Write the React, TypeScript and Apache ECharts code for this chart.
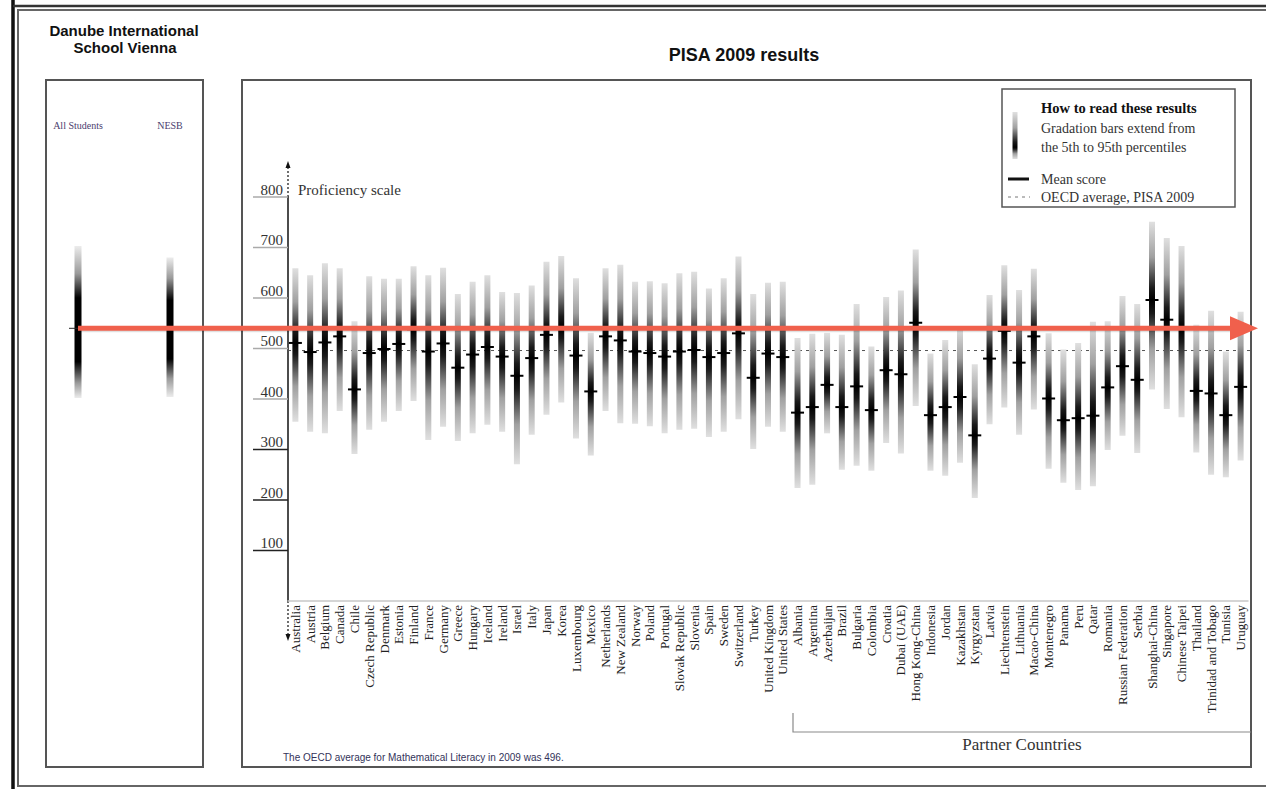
import { useEffect, useRef } from "react";
import * as echarts from "echarts";

const countries = [
  "Australia", "Austria", "Belgium", "Canada", "Chile", "Czech Republic", "Denmark", "Estonia",
  "Finland", "France", "Germany", "Greece", "Hungary", "Iceland", "Ireland", "Israel", "Italy",
  "Japan", "Korea", "Luxembourg", "Mexico", "Netherlands", "New Zealand", "Norway", "Poland",
  "Portugal", "Slovak Republic", "Slovenia", "Spain", "Sweden", "Switzerland", "Turkey",
  "United Kingdom", "United States",
  "Albania", "Argentina", "Azerbaijan", "Brazil", "Bulgaria", "Colombia", "Croatia", "Dubai (UAE)",
  "Hong Kong-China", "Indonesia", "Jordan", "Kazakhstan", "Kyrgyzstan", "Latvia", "Liechtenstein",
  "Lithuania", "Macao-China", "Montenegro", "Panama", "Peru", "Qatar", "Romania",
  "Russian Federation", "Serbia", "Shanghai-China", "Singapore", "Chinese Taipei", "Thailand",
  "Trinidad and Tobago", "Tunisia", "Uruguay",
];

// 5th percentile
const p5 = [
  355, 335, 332, 376, 291, 339, 355, 376, 396, 319, 345, 317, 332, 349, 335, 271, 329,
  369, 393, 322, 288, 376, 352, 351, 346, 332, 339, 341, 325, 335, 360, 301, 345, 335,
  224, 230, 332, 260, 268, 258, 313, 292, 386, 258, 248, 274, 204, 350, 383, 329, 379,
  262, 234, 220, 227, 299, 327, 293, 419, 380, 364, 294, 250, 245, 278,
];

// mean scores
const means = [
  511, 493, 512, 524, 419, 491, 499, 509, 538, 494, 510, 462, 488, 503, 484, 446, 481,
  527, 542, 486, 415, 524, 516, 494, 491, 484, 494, 497, 483, 491, 530, 442, 490, 483,
  373, 384, 428, 384, 425, 378, 457, 449, 551, 368, 384, 404, 328, 480, 535, 472, 524,
  401, 358, 362, 367, 423, 465, 438, 596, 557, 540, 416, 411, 368, 424,
];

// 95th percentile
const p95 = [
  659, 645, 669, 659, 554, 643, 638, 638, 663, 645, 660, 608, 632, 645, 612, 610, 625,
  672, 683, 639, 531, 659, 666, 632, 633, 629, 649, 652, 619, 639, 682, 608, 630, 632,
  521, 529, 531, 527, 588, 504, 602, 615, 696, 490, 517, 543, 469, 606, 665, 616, 658,
  530, 498, 511, 553, 554, 604, 588, 751, 719, 703, 547, 575, 494, 573,
];

const schoolGroups = ["All Students", "NESB"];
const schoolP5 = [402, 404];
const schoolMean = [540, 540];
const schoolP95 = [703, 680];
const schoolScore = 540;
const oecdAverage = 496;
const yTicks = [100, 200, 300, 400, 500, 600, 700, 800];

const SERIF = "'Liberation Serif', 'DejaVu Serif', serif";
const SANS = "'Liberation Sans', Arial, sans-serif";

const clamp = (v: number) => Math.min(1, Math.max(0, v));

function barFill(mf: number) {
  return {
    type: "linear", x: 0, y: 0, x2: 0, y2: 1, global: false,
    colorStops: [
      { offset: 0, color: "#e0e0e0" },
      { offset: clamp(mf * 0.45), color: "#a0a0a0" },
      { offset: clamp(mf * 0.85), color: "#1a1a1a" },
      { offset: clamp(mf), color: "#000000" },
      { offset: clamp(mf + (1 - mf) * 0.15), color: "#1a1a1a" },
      { offset: clamp(mf + (1 - mf) * 0.55), color: "#a0a0a0" },
      { offset: 1, color: "#e0e0e0" },
    ],
  };
}

function schoolFill(mf: number) {
  return {
    type: "linear", x: 0, y: 0, x2: 0, y2: 1, global: false,
    colorStops: [
      { offset: 0, color: "#ececec" },
      { offset: clamp(mf - 0.36), color: "#9a9a9a" },
      { offset: clamp(mf - 0.2), color: "#000000" },
      { offset: clamp(mf + 0.22), color: "#000000" },
      { offset: clamp(mf + 0.36), color: "#9a9a9a" },
      { offset: 1, color: "#ececec" },
    ],
  };
}

function txt(x: number, y: number, text: string, size: number, family: string, opts: any = {}) {
  const align = opts.align || "left";
  return {
    type: "text",
    x,
    y,
    silent: true,
    style: {
      text,
      fontSize: size,
      fontFamily: family,
      fontWeight: opts.weight || "normal",
      fill: opts.color || "#222",
      align,
      textAlign: align,
      verticalAlign: "middle",
      textVerticalAlign: "middle",
    },
  };
}

export default function App() {
  const ref = useRef<HTMLDivElement>(null);

  useEffect(() => {
    if (!ref.current) return;
    const chart = echarts.init(ref.current, null, { renderer: "svg" });

    const barData = countries.map((c, i) => [i, p5[i], means[i], p95[i]]);
    const schoolData = schoolGroups.map((g, i) => [i, schoolP5[i], schoolMean[i], schoolP95[i]]);

    const graphicElements: any[] = [
      // outer frame
      { type: "line", silent: true, shape: { x1: 13, y1: 0, x2: 13, y2: 789 }, style: { stroke: "#111", lineWidth: 3.5 } },
      { type: "line", silent: true, shape: { x1: 13, y1: 6, x2: 1266, y2: 6 }, style: { stroke: "#333", lineWidth: 2.5 } },
      { type: "rect", silent: true, shape: { x: 18, y: 10, width: 1300, height: 776 }, style: { fill: "none", stroke: "#666", lineWidth: 2 } },
      // panels
      { type: "rect", silent: true, shape: { x: 46, y: 80, width: 157, height: 687 }, style: { fill: "none", stroke: "#555", lineWidth: 2 } },
      { type: "rect", silent: true, shape: { x: 242, y: 80, width: 1009, height: 687 }, style: { fill: "none", stroke: "#555", lineWidth: 2 } },
      // titles
      txt(124, 30, "Danube International", 15, SANS, { align: "center", weight: "bold", color: "#111" }),
      txt(125, 47, "School Vienna", 15, SANS, { align: "center", weight: "bold", color: "#111" }),
      txt(744, 55, "PISA 2009 results", 18, SANS, { align: "center", weight: "bold", color: "#111" }),
      // axis extensions
      { type: "line", silent: true, shape: { x1: 288, y1: 197, x2: 288, y2: 167 }, style: { stroke: "#111", lineWidth: 1.2, lineDash: [2, 2] } },
      { type: "polygon", silent: true, shape: { points: [[285.5, 168], [288, 161], [290.5, 168]] }, style: { fill: "#111" } },
      { type: "line", silent: true, shape: { x1: 288, y1: 601, x2: 288, y2: 635 }, style: { stroke: "#111", lineWidth: 1.2, lineDash: [2, 2] } },
      { type: "polygon", silent: true, shape: { points: [[285.5, 634], [288, 641], [290.5, 634]] }, style: { fill: "#111" } },
      txt(298, 190, "Proficiency scale", 15, SERIF, { color: "#333" }),
      // partner bracket
      { type: "polyline", silent: true, shape: { points: [[793, 713], [793, 732], [1251, 732]] }, style: { stroke: "#8a8a8a", lineWidth: 1.2, fill: "none" } },
      txt(1022, 744, "Partner Countries", 17, SERIF, { align: "center", color: "#333" }),
      // footnote
      txt(283, 757, "The OECD average for Mathematical Literacy in 2009 was 496.", 10, SANS, { color: "#33335a" }),
      // legend box
      { type: "rect", silent: true, shape: { x: 1002, y: 89, width: 233, height: 118 }, style: { fill: "#fff", stroke: "#555", lineWidth: 1.5 } },
      txt(1041, 108, "How to read these results", 14.5, SERIF, { weight: "bold", color: "#111" }),
      {
        type: "rect", silent: true,
        shape: { x: 1012.5, y: 112, width: 5, height: 47 },
        style: { fill: barFill(0.75) },
      },
      txt(1041, 128, "Gradation bars extend from", 14, SERIF, { color: "#333" }),
      txt(1041, 147, "the 5th to 95th percentiles", 14, SERIF, { color: "#333" }),
      { type: "line", silent: true, shape: { x1: 1008, y1: 179, x2: 1029, y2: 179 }, style: { stroke: "#111", lineWidth: 3 } },
      txt(1041, 179, "Mean score", 14, SERIF, { color: "#333" }),
      { type: "line", silent: true, shape: { x1: 1008, y1: 197, x2: 1030, y2: 197 }, style: { stroke: "#777", lineWidth: 1, lineDash: [3, 4] } },
      txt(1041, 197, "OECD average, PISA 2009", 14, SERIF, { color: "#333" }),
    ];

    const option: any = {
      animation: false,
      backgroundColor: "#ffffff",
      grid: [
        { left: 288, top: 197, width: 960, height: 404 },
        { left: 32, top: 197, width: 184, height: 404 },
      ],
      xAxis: [
        {
          type: "category",
          gridIndex: 0,
          data: countries,
          boundaryGap: true,
          axisLine: { show: true, lineStyle: { color: "#c8c8c8", width: 1.5 } },
          axisTick: { show: false },
          splitLine: { show: false },
          axisLabel: {
            interval: 0, rotate: 90, margin: 4,
            fontFamily: SERIF, fontSize: 13, color: "#222",
          },
        },
        {
          type: "category",
          gridIndex: 1,
          data: schoolGroups,
          position: "top",
          axisLine: { show: false },
          axisTick: { show: false },
          splitLine: { show: false },
          axisLabel: { interval: 0, margin: 67, fontFamily: SERIF, fontSize: 10, color: "#4a3d6e" },
        },
      ],
      yAxis: [
        {
          type: "value",
          gridIndex: 0,
          min: 0,
          max: 800,
          interval: 100,
          axisLine: { show: true, lineStyle: { color: "#111", width: 1.5 } },
          axisTick: { show: false },
          splitLine: { show: false },
          axisLabel: {
            margin: 5,
            verticalAlign: "bottom",
            fontFamily: SERIF,
            fontSize: 15,
            color: "#333",
            formatter: (v: number) => (v === 0 ? "" : String(v)),
          },
        },
        { type: "value", gridIndex: 1, min: 0, max: 800, show: false },
      ],
      series: [
        {
          name: "ticks",
          type: "custom",
          xAxisIndex: 0,
          yAxisIndex: 0,
          silent: true,
          data: yTicks.map((v) => [0, v]),
          encode: { x: 0, y: 1 },
          renderItem: (params: any, api: any) => {
            const v = api.value(1);
            const p = api.coord([0, v]);
            const x0 = params.coordSys.x;
            const dark = v <= 300;
            return {
              type: "line",
              shape: { x1: x0 - 35, y1: p[1], x2: x0, y2: p[1] },
              style: { stroke: dark ? "#222" : "#aaa", lineWidth: dark ? 1.6 : 1.3 },
            };
          },
        },
        {
          name: "oecd",
          type: "custom",
          xAxisIndex: 0,
          yAxisIndex: 0,
          silent: true,
          z: 1,
          data: [[0, oecdAverage]],
          encode: { x: 0, y: 1 },
          renderItem: (params: any, api: any) => {
            const p = api.coord([0, api.value(1)]);
            const cs = params.coordSys;
            return {
              type: "line",
              shape: { x1: cs.x, y1: p[1], x2: cs.x + cs.width + 3, y2: p[1] },
              style: { stroke: "#555", lineWidth: 1, lineDash: [3, 4] },
            };
          },
        },
        {
          name: "PISA 2009",
          type: "custom",
          xAxisIndex: 0,
          yAxisIndex: 0,
          z: 3,
          data: barData,
          encode: { x: 0, y: [1, 2, 3] },
          renderItem: (params: any, api: any) => {
            const i = api.value(0);
            const top = api.coord([i, api.value(3)]);
            const bot = api.coord([i, api.value(1)]);
            const mid = api.coord([i, api.value(2)]);
            const h = bot[1] - top[1];
            const mf = (mid[1] - top[1]) / h;
            const w = 6;
            return {
              type: "group",
              children: [
                {
                  type: "rect",
                  shape: { x: top[0] - w / 2, y: top[1], width: w, height: h },
                  style: { fill: barFill(mf) },
                },
                {
                  type: "line",
                  shape: { x1: mid[0] - 6.5, y1: mid[1], x2: mid[0] + 6.5, y2: mid[1] },
                  style: { stroke: "#000", lineWidth: 2 },
                },
              ],
            };
          },
        },
        {
          name: "School",
          type: "custom",
          xAxisIndex: 1,
          yAxisIndex: 1,
          z: 3,
          data: schoolData,
          encode: { x: 0, y: [1, 2, 3] },
          renderItem: (params: any, api: any) => {
            const i = api.value(0);
            const top = api.coord([i, api.value(3)]);
            const bot = api.coord([i, api.value(1)]);
            const mid = api.coord([i, api.value(2)]);
            const h = bot[1] - top[1];
            const mf = (mid[1] - top[1]) / h;
            const w = 7;
            return {
              type: "group",
              children: [
                {
                  type: "rect",
                  shape: { x: top[0] - w / 2, y: top[1], width: w, height: h },
                  style: { fill: schoolFill(mf) },
                },
                {
                  type: "line",
                  shape: { x1: mid[0] - 9, y1: mid[1], x2: mid[0] + 9, y2: mid[1] },
                  style: { stroke: "#222", lineWidth: 1 },
                },
              ],
            };
          },
        },
        {
          name: "School score",
          type: "custom",
          xAxisIndex: 0,
          yAxisIndex: 0,
          silent: true,
          z: 10,
          data: [[0, schoolScore]],
          encode: { x: 0, y: 1 },
          renderItem: (params: any, api: any) => {
            const y = api.coord([0, api.value(1)])[1];
            return {
              type: "group",
              children: [
                {
                  type: "line",
                  shape: { x1: 78, y1: y + 1.5, x2: 1234, y2: y + 1.5 },
                  style: { stroke: "rgba(0,0,0,0.12)", lineWidth: 5 },
                },
                {
                  type: "line",
                  shape: { x1: 78, y1: y, x2: 1234, y2: y },
                  style: { stroke: "#f0604c", lineWidth: 5 },
                },
                {
                  type: "polygon",
                  shape: { points: [[1230, y - 12], [1258, y], [1230, y + 12]] },
                  style: { fill: "#f0604c" },
                },
              ],
            };
          },
        },
      ],
      graphic: { elements: graphicElements },
    };

    chart.setOption(option);
    return () => chart.dispose();
  }, []);

  return (
    <div
      ref={ref}
      style={{ position: "absolute", left: 0, top: 0, width: 1266, height: 789, background: "#fff" }}
    />
  );
}
